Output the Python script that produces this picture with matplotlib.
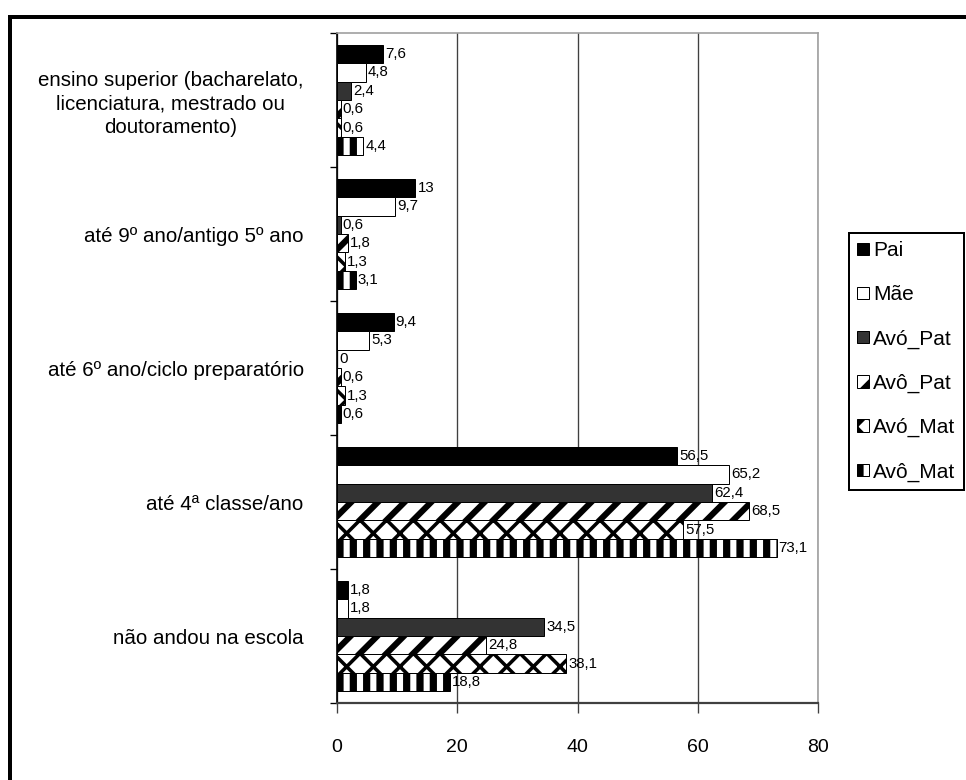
import matplotlib.pyplot as plt
from matplotlib.lines import Line2D
import numpy as np

plt.rcParams['font.family'] = ['Liberation Sans', 'DejaVu Sans']

# education levels, bottom to top
niveis = ['não andou na escola',
          'até 4ª classe/ano',
          'até 6º ano/ciclo preparatório',
          'até 9º ano/antigo 5º ano',
          'ensino superior (bacharelato,\nlicenciatura, mestrado ou\ndoutoramento)']

series = ['Pai', 'Mãe', 'Avó_Pat', 'Avô_Pat', 'Avó_Mat', 'Avô_Mat']

# percentages per relative, same order as niveis
pai = [1.8, 56.5, 9.4, 13, 7.6]
mae = [1.8, 65.2, 5.3, 9.7, 4.8]
avo_pat_f = [34.5, 62.4, 0, 0.6, 2.4]
avo_pat_m = [24.8, 68.5, 0.6, 1.8, 0.6]
avo_mat_f = [38.1, 57.5, 1.3, 1.3, 0.6]
avo_mat_m = [18.8, 73.1, 0.6, 3.1, 4.4]
valores = [pai, mae, avo_pat_f, avo_pat_m, avo_mat_f, avo_mat_m]

estilos = [
    dict(color='black', hatch=None, hlw=1.0),
    dict(color='white', hatch=None, hlw=1.0),
    dict(color='#333333', hatch=None, hlw=1.0),
    dict(color='white', hatch='/', hlw=5.5),
    dict(color='white', hatch='x', hlw=3.2),
    dict(color='white', hatch='|', hlw=6.5),
]

fig = plt.figure(figsize=(966 / 80, 780 / 80), dpi=80)
ax = fig.add_axes([337 / 966, 1 - 703 / 780, (818 - 337) / 966, (703 - 33) / 780])

y = np.arange(len(niveis))
h = 0.137
for k, (nome, vals, st) in enumerate(zip(series, valores, estilos)):
    plt.rcParams['hatch.linewidth'] = st['hlw']
    pos = y + (2.5 - k) * h
    ax.barh(pos, vals, height=h, color=st['color'], edgecolor='black',
            linewidth=0.9, hatch=st['hatch'], label=nome, zorder=3)
    for p, v in zip(pos, vals):
        txt = f'{v:g}'.replace('.', ',')
        ax.annotate(txt, (v, p), xytext=(2, 0), textcoords='offset points',
                    va='center', ha='left', fontsize=13.5, zorder=4)

ax.set_xlim(0, 80)
ax.set_ylim(-0.5, len(niveis) - 0.5)
ax.set_xticks([0, 20, 40, 60, 80])
ax.tick_params(axis='x', length=9, width=1.2, color='#404040', pad=23, labelsize=17.5)

ax.set_yticks(np.arange(-0.5, len(niveis)), labels=[])
ax.set_yticks(y, labels=niveis, minor=True)
ax.tick_params(axis='y', which='major', length=6, width=1.2)
ax.tick_params(axis='y', which='minor', length=0, pad=30, labelsize=18.5)
for lbl in ax.get_yticklabels(minor=True):
    lbl.set_multialignment('center')
    lbl.set_linespacing(1.3)

ax.grid(axis='x', color='#404040', linewidth=1.2, zorder=0)
ax.set_axisbelow(True)
ax.spines['left'].set_color('black')
ax.spines['left'].set_linewidth(1.5)
ax.spines['bottom'].set_color('#404040')
ax.spines['bottom'].set_linewidth(2)
ax.spines['top'].set_color('#a0a0a0')
ax.spines['right'].set_color('#a0a0a0')
ax.spines['top'].set_linewidth(1.5)
ax.spines['right'].set_linewidth(1.5)

leg = ax.legend(loc='upper left', bbox_to_anchor=(849 / 966, 1 - 233 / 780),
                bbox_transform=fig.transFigure, borderaxespad=0, fontsize=18.8,
                handlelength=0.55, handleheight=0.55, handletextpad=0.2,
                labelspacing=1.2, borderpad=0.4, fancybox=False, framealpha=1)
leg.get_frame().set_edgecolor('black')
leg.get_frame().set_linewidth(1.8)

# outer frame, top and left edges
fig.add_artist(Line2D([10 / 966, 1], [1 - 17 / 780] * 2, color='black', lw=3.6,
                      transform=fig.transFigure))
fig.add_artist(Line2D([10 / 966] * 2, [0, 1 - 17 / 780], color='black', lw=3.6,
                      transform=fig.transFigure))

fig.savefig('out.png', dpi=80)
